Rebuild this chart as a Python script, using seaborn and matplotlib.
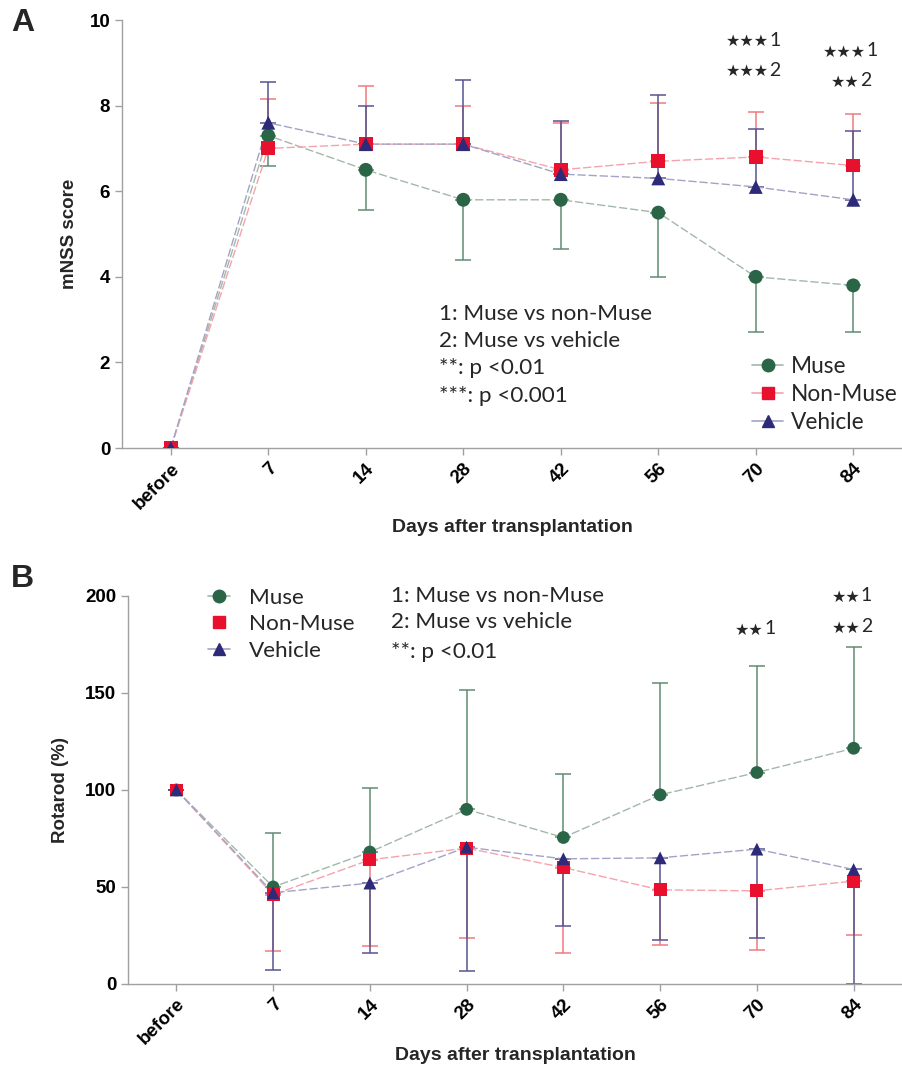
import numpy as np
import pandas as pd
import matplotlib
matplotlib.use("Agg")
import matplotlib.pyplot as plt
import seaborn as sns
from matplotlib.lines import Line2D

sns.set_theme(style="ticks")
plt.rcParams['font.family'] = ['Liberation Sans', 'DejaVu Sans']

# 数据 / data
days = ['before', '7', '14', '28', '42', '56', '70', '84']
groups = ['Muse', 'Non-Muse', 'Vehicle']

# A: mNSS score (mean, SD drawn one-sided)
mnss_muse = [0, 7.3, 6.5, 5.8, 5.8, 5.5, 4.0, 3.8]
mnss_nonmuse = [0, 7.0, 7.1, 7.1, 6.5, 6.7, 6.8, 6.6]
mnss_vehicle = [0, 7.6, 7.1, 7.1, 6.4, 6.3, 6.1, 5.8]
mnss_muse_sd = [0, 0.7, 0.95, 1.4, 1.15, 1.5, 1.3, 1.1]
mnss_nonmuse_sd = [0, 1.15, 1.35, 0.9, 1.1, 1.35, 1.05, 1.2]
mnss_vehicle_sd = [0, 0.95, 0.9, 1.5, 1.25, 1.95, 1.35, 1.6]

# B: Rotarod (%)
rot_muse = [100, 50, 68, 90, 75.5, 97.5, 109, 121.5]
rot_nonmuse = [100, 46, 64, 70, 60, 48.5, 48, 53]
rot_vehicle = [100, 47, 52, 70.5, 64.5, 65, 69.5, 59]
rot_muse_sd = [0, 28, 33, 61.5, 32.5, 57.5, 55, 52]
rot_nonmuse_sd = [0, 29, 44.5, 46.5, 44, 28.5, 30.5, 28]
rot_vehicle_sd = [0, 40, 36, 64, 34.5, 42.5, 46, 59]

# 显著性标记: (x位置, y, 星号数, 比较编号)
sigA = [(6, 9.49, 3, '1'), (6, 8.79, 3, '2'), (7, 9.25, 3, '1'), (7, 8.55, 2, '2')]
sigB = [(6, 182.5, 2, '1'), (7, 199.5, 2, '1'), (7, 183.5, 2, '2')]

marker_col = {'Muse': '#2b6548', 'Non-Muse': '#e8102c', 'Vehicle': '#2d2a7a'}
line_col = {'Muse': '#a3b8aa', 'Non-Muse': '#f5a3ab', 'Vehicle': '#a3a3c6'}
err_col = {'Muse': '#5f8c72', 'Non-Muse': '#f07a80', 'Vehicle': '#55548f'}
markers = {'Muse': 'o', 'Non-Muse': 's', 'Vehicle': '^'}

note_font = ['Lato', 'DejaVu Sans']
TICK_FS = 13.5


def long_df(means):
    rows = []
    for g, vals in zip(groups, means):
        for i, v in enumerate(vals):
            rows.append({'pos': i, 'day': days[i], 'group': g, 'value': v})
    return pd.DataFrame(rows)


def draw_panel(ax, means, sds, down, msize):
    df = long_df(means)
    # 误差线 (one-sided)
    for g, m, s in zip(groups, means, sds):
        s = np.array(s)
        z = np.zeros_like(s)
        yerr = [s, z] if down[g] else [z, s]
        ax.errorbar(range(len(days)), m, yerr=yerr, fmt='none', ecolor=err_col[g],
                    elinewidth=1.1, capsize=6, capthick=1.1, zorder=1)
    sns.lineplot(data=df, x='pos', y='value', hue='group', palette=line_col,
                 linewidth=1.0, ax=ax, legend=False, zorder=2)
    for ln in ax.lines[-3:]:
        ln.set_dashes((6, 2))
    sns.scatterplot(data=df, x='pos', y='value', hue='group', style='group',
                    markers=markers, palette=marker_col, s=msize, linewidth=0,
                    ax=ax, legend=False, zorder=3)
    ax.set_xlim(-0.5, 7.5)
    ax.set_xticks(range(len(days)))
    ax.set_xticklabels(days, rotation=45, ha='right', rotation_mode='anchor',
                       fontsize=TICK_FS, fontweight='bold')
    sns.despine(ax=ax)
    for sp in ['left', 'bottom']:
        ax.spines[sp].set_color('#a0a0a0')
        ax.spines[sp].set_linewidth(1.0)
    ax.tick_params(colors='#a0a0a0', labelcolor='black', length=5, width=1)


def bold_yticks(ax):
    for lab in ax.get_yticklabels():
        lab.set_fontweight('bold')
        lab.set_fontsize(TICK_FS)


def sig_marks(ax, marks):
    # 星号 + 编号, 整体大致居中于刻度
    for x, y, n, k in marks:
        dx = (n * 6.4 - 6) * 0.72
        ax.annotate('★' * n, (x, y), xytext=(dx, 0), textcoords='offset points',
                    fontsize=11.5, family='DejaVu Sans', ha='right', va='center')
        ax.annotate(k, (x, y), xytext=(dx + 0.3, 1), textcoords='offset points',
                    fontsize=14, family=note_font, ha='left', va='center')


def legend_handles(hide_line=()):
    hs = []
    for g in groups:
        hs.append(Line2D([0], [0], color=line_col[g], lw=1.2, marker=markers[g],
                         markersize=9, markerfacecolor=marker_col[g],
                         markeredgecolor=marker_col[g],
                         linestyle='none' if g in hide_line else '-'))
    return hs


fig = plt.figure(figsize=(9.02, 10.65), dpi=100)
axA = fig.add_axes([0.1353, 0.5793, 0.8647, 0.4019])
axB = fig.add_axes([0.1419, 0.0761, 0.8581, 0.3643])

# ---------- A ----------
draw_panel(axA, [mnss_muse, mnss_nonmuse, mnss_vehicle],
           [mnss_muse_sd, mnss_nonmuse_sd, mnss_vehicle_sd],
           {'Muse': True, 'Non-Muse': False, 'Vehicle': False}, 100)
axA.set_ylim(0, 10)
axA.set_yticks([0, 2, 4, 6, 8, 10])
bold_yticks(axA)
axA.set_ylabel('mNSS score', fontsize=13.5, fontweight='bold')
axA.yaxis.set_label_coords(-0.057, 0.5)
axA.set_xlabel('Days after transplantation', fontsize=14, fontweight='bold')
axA.xaxis.set_label_coords(0.5, -0.165)

notesA = ['1: Muse vs non-Muse', '2: Muse vs vehicle', '**: p <0.01', '***: p <0.001']
for t, y in zip(notesA, [3.13, 2.5, 1.87, 1.21]):
    axA.text(2.75, y, t, fontsize=16.2, family=note_font, va='center', ha='left')
sig_marks(axA, sigA)

axA.legend(legend_handles(), groups, loc='lower right',
           bbox_to_anchor=(1.006, 0.015), frameon=False, handlelength=1.35,
           handletextpad=0.35, labelspacing=0.3, borderaxespad=0,
           prop={'family': note_font, 'size': 16.3})

# ---------- B ----------
draw_panel(axB, [rot_muse, rot_nonmuse, rot_vehicle],
           [rot_muse_sd, rot_nonmuse_sd, rot_vehicle_sd],
           {'Muse': False, 'Non-Muse': True, 'Vehicle': True}, 85)
axB.set_ylim(0, 200)
axB.set_yticks([0, 50, 100, 150, 200])
bold_yticks(axB)
axB.set_ylabel('Rotarod (%)', fontsize=13.5, fontweight='bold')
axB.yaxis.set_label_coords(-0.076, 0.5)
axB.set_xlabel('Days after transplantation', fontsize=14, fontweight='bold')
axB.xaxis.set_label_coords(0.5, -0.163)

notesB = ['1: Muse vs non-Muse', '2: Muse vs vehicle', '**: p <0.01']
for t, y in zip(notesB, [200, 186.6, 171]):
    axB.text(2.215, y, t, fontsize=16.2, family=note_font, va='center', ha='left')
sig_marks(axB, sigB)

axB.legend(legend_handles(hide_line=('Non-Muse',)), groups, loc='upper left',
           bbox_to_anchor=(0.092, 1.045), frameon=False, handlelength=0.95,
           handletextpad=0.85, labelspacing=0.3, borderaxespad=0,
           prop={'family': note_font, 'size': 16.2})

fig.text(0.012, 0.978, 'A', fontsize=23, fontweight='bold', va='center', ha='left')
fig.text(0.012, 0.456, 'B', fontsize=23, fontweight='bold', va='center', ha='left')

fig.savefig('out.png', dpi=100)
